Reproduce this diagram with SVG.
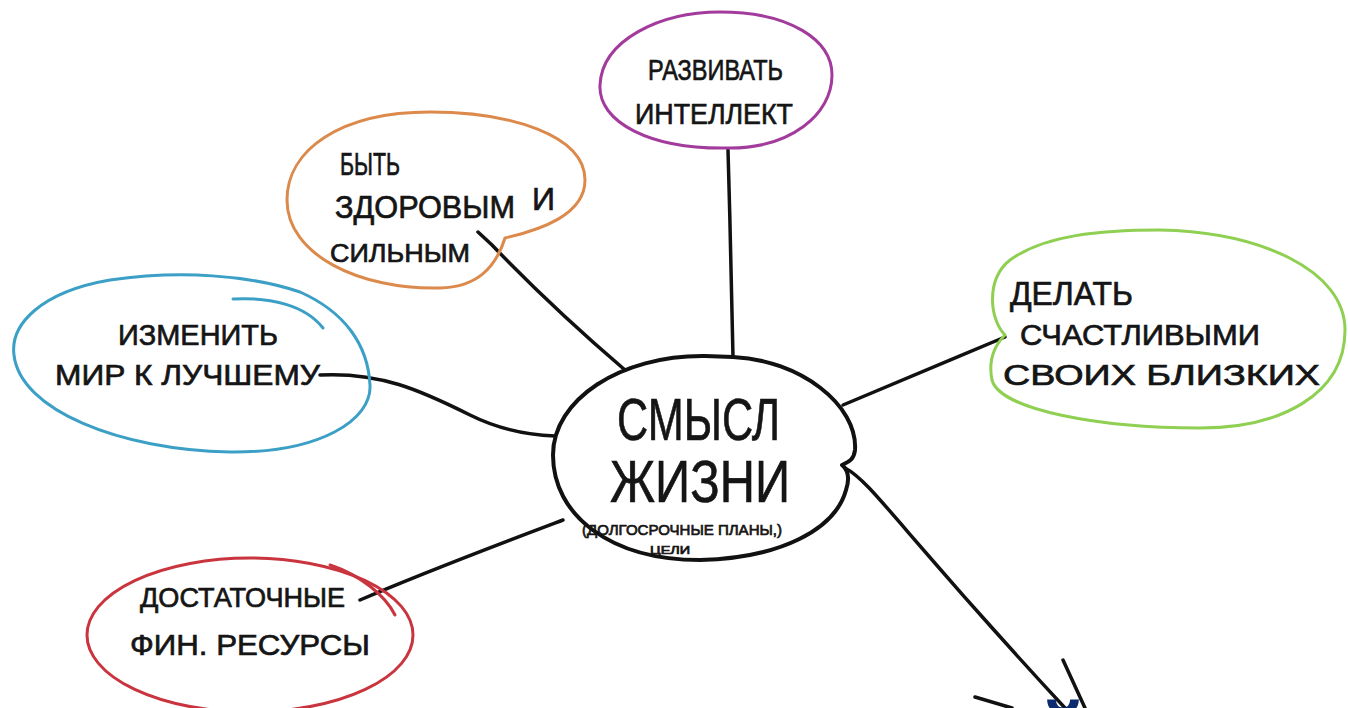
<svg xmlns="http://www.w3.org/2000/svg" width="1348" height="708" viewBox="0 0 1348 708">
  <style>
    .bubble { fill: none; stroke-width: 3; stroke-linecap: round; stroke-linejoin: round; }
    .purple { stroke: #a23b9c; }
    .orange { stroke: #dc8a4c; }
    .blue { stroke: #3c9fc6; }
    .green { stroke: #8fcf52; }
    .red { stroke: #c9343e; }
    .core { fill: none; stroke: #111; stroke-width: 4; stroke-linejoin: round; }
    .link { fill: none; stroke: #111; stroke-width: 3.5; stroke-linecap: round; }
    .hand { font-family: "Liberation Sans", "DejaVu Sans", sans-serif; fill: #151515; stroke: #151515; stroke-width: 0.7; }
  </style>
  <rect width="1348" height="708" fill="#ffffff"/>

  <!-- connectors from the centre to each bubble -->
  <g id="connectors">
    <path class="link" d="M728 150 C730 220 732 300 733 357"/>
    <path class="link" d="M478 232 L492 245 C540 295 590 340 625 370"/>
    <path class="link" d="M320 375 C380 372 420 390 470 415 C500 430 530 435 555 436"/>
    <path class="link" d="M1005 337 C950 360 890 385 843 405"/>
    <path class="link" d="M360 600 C430 570 510 540 563 520"/>
    <path class="link" d="M845 468 C872 482 900 530 1065 708"/>
    <path class="link" d="M1063 660 L1085 708"/>
    <path class="link" d="M975 697 L1012 708"/>
  </g>

  <g id="node-intellect">
    <path class="bubble purple" d="M730 148 C650 150 598 122 600 85 C602 40 660 12 720 12 C790 12 832 40 832 75 C832 115 790 148 730 148"/>
    <text class="hand" x="648" y="80" font-size="30" textLength="135" lengthAdjust="spacingAndGlyphs">РАЗВИВАТЬ</text>
    <text class="hand" x="635" y="124" font-size="30" textLength="158" lengthAdjust="spacingAndGlyphs">ИНТЕЛЛЕКТ</text>
  </g>

  <g id="node-health">
    <path class="bubble orange" d="M505 238 C540 230 585 215 585 180 C585 135 510 112 430 112 C340 112 287 150 287 200 C287 255 360 290 440 288 C475 287 495 270 505 238"/>
    <text class="hand" x="340" y="175" font-size="32" textLength="60" lengthAdjust="spacingAndGlyphs">БЫТЬ</text>
    <text class="hand" x="335" y="218" font-size="32" textLength="180" lengthAdjust="spacingAndGlyphs">ЗДОРОВЫМ</text>
    <text class="hand" x="532" y="210" font-size="32">И</text>
    <text class="hand" x="330" y="262" font-size="26" textLength="140" lengthAdjust="spacingAndGlyphs">СИЛЬНЫМ</text>
  </g>

  <g id="node-world">
    <path class="bubble blue" d="M300 292 C250 275 180 270 110 280 C40 292 10 325 14 355 C20 410 120 450 230 452 C320 453 372 420 370 385 C368 345 345 312 300 292"/>
    <path class="bubble blue" d="M233 299 C270 297 305 305 323 328"/>
    <text class="hand" x="118" y="345" font-size="30" textLength="160" lengthAdjust="spacingAndGlyphs">ИЗМЕНИТЬ</text>
    <text class="hand" x="55" y="385" font-size="30" textLength="265" lengthAdjust="spacingAndGlyphs">МИР К ЛУЧШЕМУ</text>
  </g>

  <g id="node-family">
    <path class="bubble green" d="M1005 335 C990 320 985 280 1010 260 C1045 235 1100 230 1160 230 C1260 232 1345 270 1345 330 C1345 395 1280 428 1200 428 C1100 428 1000 410 992 380 C988 360 995 345 1005 335"/>
    <text class="hand" x="1010" y="305" font-size="34" textLength="123" lengthAdjust="spacingAndGlyphs">ДЕЛАТЬ</text>
    <text class="hand" x="1020" y="345" font-size="30" textLength="240" lengthAdjust="spacingAndGlyphs">СЧАСТЛИВЫМИ</text>
    <text class="hand" x="1003" y="385" font-size="30" textLength="317" lengthAdjust="spacingAndGlyphs">СВОИХ БЛИЗКИХ</text>
  </g>

  <g id="node-money">
    <ellipse class="bubble red" cx="250" cy="635" rx="163" ry="77"/>
    <path class="bubble red" d="M330 565 C360 575 385 595 395 615"/>
    <text class="hand" x="140" y="607" font-size="28" textLength="205" lengthAdjust="spacingAndGlyphs">ДОСТАТОЧНЫЕ</text>
    <text class="hand" x="130" y="655" font-size="30" textLength="240" lengthAdjust="spacingAndGlyphs">ФИН. РЕСУРСЫ</text>
  </g>

  <g id="node-meaning">
    <path class="core" d="M733 357 C800 360 858 405 855 450 C854 460 848 462 842 465 C848 470 850 478 846 490 C835 530 780 558 700 560 C610 560 553 515 553 455 C553 400 620 355 705 356 Z"/>
    <text class="hand" x="617" y="440" font-size="60" textLength="163" lengthAdjust="spacingAndGlyphs">СМЫСЛ</text>
    <text class="hand" x="610" y="502" font-size="60" textLength="180" lengthAdjust="spacingAndGlyphs">ЖИЗНИ</text>
    <text class="hand" x="582" y="535" font-size="15" stroke-width="0.3" textLength="200" lengthAdjust="spacingAndGlyphs">(ДОЛГОСРОЧНЫЕ ПЛАНЫ,)</text>
    <text class="hand" x="650" y="554" font-size="11" stroke-width="0.3" textLength="40" lengthAdjust="spacingAndGlyphs">ЦЕЛИ</text>
  </g>

  <!-- next word, cut by the lower edge -->
  <text x="1034" y="772" font-family="Liberation Sans, sans-serif" font-weight="bold" font-size="80" fill="#0b2a6f">Й</text>
</svg>
